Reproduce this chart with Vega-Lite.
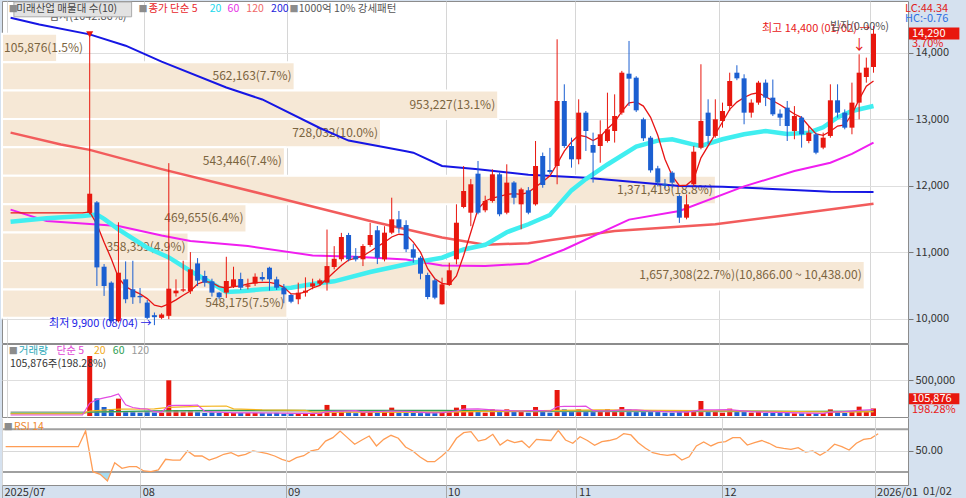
{
  "$schema": "https://vega.github.io/schema/vega-lite/v6.json",
  "background": "#d5e1ef",
  "padding": 0,
  "spacing": 1,
  "bounds": "flush",
  "config": {
    "view": {"stroke": "#8c8c8c", "fill": "white"},
    "axis": {"labelFont": "Noto Sans CJK KR", "labelFontSize": 11, "labelColor": "#333333"},
    "axisY": {"minExtent": 60, "maxExtent": 60},
    "axisX": {"maxExtent": 14},
    "text": {"font": "Noto Sans CJK KR", "fontSize": 11, "align": "left", "baseline": "middle"}
  },
  "datasets": {
    "candles": [
      {"t":11,"o":11590,"h":14290,"l":11570,"c":11880,"v":840000},
      {"t":12,"o":11750,"h":11770,"l":10490,"c":10770,"v":247000},
      {"t":13,"o":10780,"h":10820,"l":10340,"c":10490,"v":126000},
      {"t":14,"o":10540,"h":10560,"l":9930,"c":9960,"v":93000},
      {"t":15,"o":9960,"h":11450,"l":9940,"c":10690,"v":243000},
      {"t":16,"o":10590,"h":10860,"l":10230,"c":10290,"v":70000},
      {"t":17,"o":10440,"h":10870,"l":10220,"c":10320,"v":61000},
      {"t":18,"o":10340,"h":10460,"l":10230,"c":10320,"v":47000},
      {"t":19,"o":10240,"h":10280,"l":9990,"c":10010,"v":70000},
      {"t":20,"o":10050,"h":10090,"l":9900,"c":10020,"v":50000},
      {"t":21,"o":10010,"h":10080,"l":9990,"c":10060,"v":47000},
      {"t":22,"o":10040,"h":12340,"l":9990,"c":10450,"v":500000},
      {"t":23,"o":10380,"h":10590,"l":10330,"c":10420,"v":79000},
      {"t":24,"o":10420,"h":10870,"l":10400,"c":10440,"v":61000},
      {"t":25,"o":10410,"h":11000,"l":10370,"c":10740,"v":70000},
      {"t":26,"o":10830,"h":10910,"l":10490,"c":10570,"v":61000},
      {"t":27,"o":10640,"h":10720,"l":10480,"c":10540,"v":42000},
      {"t":28,"o":10560,"h":10600,"l":10330,"c":10390,"v":52000},
      {"t":29,"o":10390,"h":10400,"l":10290,"c":10320,"v":42000},
      {"t":30,"o":10390,"h":10930,"l":10310,"c":10565,"v":48000},
      {"t":31,"o":10480,"h":10780,"l":10460,"c":10590,"v":42000},
      {"t":32,"o":10595,"h":10690,"l":10430,"c":10464,"v":42000},
      {"t":33,"o":10480,"h":10600,"l":10440,"c":10500,"v":42000},
      {"t":34,"o":10525,"h":10680,"l":10490,"c":10630,"v":42000},
      {"t":35,"o":10625,"h":10700,"l":10560,"c":10590,"v":40000},
      {"t":36,"o":10765,"h":10780,"l":10420,"c":10590,"v":38000},
      {"t":37,"o":10590,"h":10630,"l":10430,"c":10464,"v":45000},
      {"t":38,"o":10464,"h":10520,"l":10230,"c":10364,"v":33000},
      {"t":39,"o":10354,"h":10370,"l":10230,"c":10253,"v":33000},
      {"t":40,"o":10290,"h":10540,"l":10215,"c":10389,"v":33000},
      {"t":41,"o":10390,"h":10620,"l":10330,"c":10420,"v":33000},
      {"t":42,"o":10480,"h":10600,"l":10440,"c":10530,"v":33000},
      {"t":43,"o":10525,"h":10600,"l":10500,"c":10575,"v":40000},
      {"t":44,"o":10540,"h":11340,"l":10420,"c":10790,"v":155000},
      {"t":45,"o":10776,"h":11090,"l":10740,"c":10900,"v":50000},
      {"t":46,"o":10892,"h":11290,"l":10860,"c":11228,"v":70000},
      {"t":47,"o":11258,"h":11290,"l":10860,"c":10892,"v":61000},
      {"t":48,"o":10940,"h":11060,"l":10860,"c":10890,"v":40000},
      {"t":49,"o":10892,"h":11120,"l":10790,"c":11092,"v":56000},
      {"t":50,"o":11107,"h":11440,"l":11080,"c":11258,"v":79000},
      {"t":51,"o":11329,"h":11394,"l":10820,"c":10916,"v":47000},
      {"t":52,"o":10892,"h":11390,"l":10860,"c":11293,"v":56000},
      {"t":53,"o":11293,"h":11820,"l":11270,"c":11494,"v":117000},
      {"t":54,"o":11494,"h":11620,"l":11290,"c":11368,"v":47000},
      {"t":55,"o":11408,"h":11480,"l":11000,"c":11043,"v":47000},
      {"t":56,"o":11043,"h":11120,"l":10840,"c":10916,"v":42000},
      {"t":57,"o":10916,"h":10940,"l":10590,"c":10675,"v":40000},
      {"t":58,"o":10655,"h":10690,"l":10290,"c":10324,"v":45000},
      {"t":59,"o":10575,"h":10600,"l":10290,"c":10314,"v":40000},
      {"t":60,"o":10214,"h":10615,"l":10210,"c":10515,"v":56000},
      {"t":61,"o":10505,"h":10840,"l":10490,"c":10726,"v":61000},
      {"t":62,"o":10892,"h":11720,"l":10816,"c":11443,"v":117000},
      {"t":63,"o":11680,"h":12297,"l":11660,"c":11921,"v":154000},
      {"t":64,"o":11594,"h":12100,"l":11390,"c":12022,"v":61000},
      {"t":65,"o":12182,"h":12373,"l":11570,"c":11594,"v":56000},
      {"t":66,"o":11630,"h":11850,"l":11600,"c":11770,"v":47000},
      {"t":67,"o":11770,"h":12247,"l":11745,"c":12172,"v":93000},
      {"t":68,"o":12172,"h":12200,"l":11540,"c":11570,"v":56000},
      {"t":69,"o":11594,"h":12323,"l":11570,"c":12047,"v":93000},
      {"t":70,"o":12047,"h":12070,"l":11720,"c":11820,"v":56000},
      {"t":71,"o":11720,"h":11970,"l":11344,"c":11946,"v":70000},
      {"t":72,"o":11931,"h":11980,"l":11570,"c":11594,"v":47000},
      {"t":73,"o":11720,"h":12674,"l":11700,"c":12297,"v":126000},
      {"t":74,"o":12448,"h":12500,"l":11970,"c":12011,"v":56000},
      {"t":75,"o":12237,"h":12570,"l":12180,"c":12207,"v":47000},
      {"t":76,"o":12297,"h":14206,"l":12022,"c":13277,"v":364000},
      {"t":77,"o":13277,"h":13528,"l":12570,"c":12599,"v":93000},
      {"t":78,"o":12599,"h":12724,"l":12272,"c":12398,"v":56000},
      {"t":79,"o":12398,"h":13302,"l":12323,"c":13101,"v":93000},
      {"t":80,"o":13101,"h":13126,"l":12524,"c":12825,"v":56000},
      {"t":81,"o":12614,"h":12800,"l":12047,"c":12498,"v":61000},
      {"t":82,"o":12599,"h":12986,"l":12347,"c":12775,"v":56000},
      {"t":83,"o":12674,"h":13402,"l":12650,"c":12850,"v":93000},
      {"t":84,"o":12825,"h":13377,"l":12650,"c":13051,"v":61000},
      {"t":85,"o":13101,"h":13730,"l":13070,"c":13703,"v":126000},
      {"t":86,"o":13688,"h":14181,"l":13201,"c":13613,"v":93000},
      {"t":87,"o":13628,"h":13650,"l":13110,"c":13136,"v":56000},
      {"t":88,"o":13001,"h":13026,"l":12674,"c":12715,"v":61000},
      {"t":89,"o":12724,"h":12750,"l":12197,"c":12232,"v":79000},
      {"t":90,"o":12262,"h":12300,"l":11990,"c":12047,"v":79000},
      {"t":91,"o":12030,"h":12100,"l":11960,"c":12000,"v":47000},
      {"t":92,"o":12197,"h":12220,"l":11970,"c":12047,"v":47000},
      {"t":93,"o":11845,"h":11870,"l":11440,"c":11519,"v":56000},
      {"t":94,"o":11519,"h":11870,"l":11494,"c":11720,"v":56000},
      {"t":95,"o":12022,"h":12600,"l":11990,"c":12513,"v":61000},
      {"t":96,"o":12573,"h":13830,"l":12549,"c":12976,"v":210000},
      {"t":97,"o":13101,"h":13302,"l":12624,"c":12750,"v":61000},
      {"t":98,"o":12750,"h":13302,"l":12724,"c":13001,"v":56000},
      {"t":99,"o":12976,"h":13252,"l":12875,"c":13126,"v":47000},
      {"t":100,"o":13201,"h":13703,"l":13126,"c":13578,"v":103000},
      {"t":101,"o":13703,"h":13815,"l":13590,"c":13618,"v":61000},
      {"t":102,"o":13618,"h":13679,"l":12926,"c":13101,"v":56000},
      {"t":103,"o":13101,"h":13302,"l":13026,"c":13252,"v":47000},
      {"t":104,"o":13252,"h":13580,"l":13220,"c":13553,"v":61000},
      {"t":105,"o":13553,"h":13600,"l":13200,"c":13327,"v":42000},
      {"t":106,"o":13327,"h":13600,"l":13050,"c":13076,"v":42000},
      {"t":107,"o":13086,"h":13150,"l":12900,"c":13026,"v":47000},
      {"t":108,"o":13176,"h":13277,"l":12674,"c":12900,"v":42000},
      {"t":109,"o":12825,"h":13200,"l":12700,"c":13051,"v":37000},
      {"t":110,"o":13026,"h":13050,"l":12574,"c":12775,"v":37000},
      {"t":111,"o":12674,"h":12900,"l":12640,"c":12800,"v":37000},
      {"t":112,"o":12775,"h":12800,"l":12474,"c":12498,"v":37000},
      {"t":113,"o":12574,"h":12800,"l":12550,"c":12724,"v":42000},
      {"t":114,"o":12750,"h":13528,"l":12724,"c":13287,"v":93000},
      {"t":115,"o":13287,"h":13528,"l":13026,"c":13101,"v":56000},
      {"t":116,"o":13101,"h":13150,"l":12850,"c":12875,"v":42000},
      {"t":117,"o":12875,"h":13553,"l":12775,"c":13252,"v":61000},
      {"t":118,"o":13252,"h":13980,"l":13000,"c":13703,"v":131000},
      {"t":119,"o":13638,"h":13930,"l":13553,"c":13779,"v":56000},
      {"t":120,"o":13789,"h":14407,"l":13703,"c":14290,"v":105876}
    ],
    "pma": [
      {"t":0,"m5":11590,"m20":11458,"m60":11640,"m120":12800,"m200":14530},
      {"t":4,"m200":14430},
      {"t":5,"m20":11510,"m60":11470},
      {"t":7,"m120":12620},
      {"t":10,"m5":11590,"m20":11545,"m60":11430},
      {"t":11,"m5":11605,"m120":12540,"m200":14280},
      {"t":12,"m5":11420,"m20":11565},
      {"t":13,"m5":11150,"m20":11500},
      {"t":14,"m5":10900},
      {"t":15,"m5":10615,"m20":11344,"m60":11394},
      {"t":16,"m5":10480,"m200":14110},
      {"t":17,"m5":10420},
      {"t":18,"m5":10370},
      {"t":19,"m5":10300,"m20":11067},
      {"t":20,"m5":10200},
      {"t":21,"m5":10175,"m60":11250,"m120":12250,"m200":13870},
      {"t":22,"m5":10220,"m20":10920},
      {"t":23,"m5":10280},
      {"t":24,"m5":10350},
      {"t":25,"m5":10414,"m20":10716,"m60":11168},
      {"t":26,"m5":10520},
      {"t":27,"m5":10560},
      {"t":28,"m5":10540,"m20":10530},
      {"t":29,"m5":10480},
      {"t":30,"m5":10460,"m20":10400,"m200":13480},
      {"t":31,"m5":10480},
      {"t":32,"m5":10490,"m20":10410},
      {"t":33,"m5":10520,"m60":11092},
      {"t":34,"m5":10540},
      {"t":35,"m5":10545,"m20":10440,"m200":13300},
      {"t":36,"m5":10545,"m120":11850},
      {"t":37,"m5":10520},
      {"t":38,"m5":10470},
      {"t":39,"m5":10370,"m20":10464},
      {"t":40,"m5":10370},
      {"t":41,"m5":10400},
      {"t":42,"m5":10460,"m20":10520,"m60":10950},
      {"t":43,"m5":10500,"m200":12870},
      {"t":44,"m5":10600},
      {"t":45,"m5":10700,"m20":10560},
      {"t":46,"m5":10800},
      {"t":47,"m5":10880,"m200":12680},
      {"t":48,"m5":10910,"m60":10930},
      {"t":49,"m5":10942},
      {"t":50,"m5":11010,"m20":10700,"m120":11470},
      {"t":51,"m5":11080},
      {"t":52,"m5":11150},
      {"t":53,"m5":11228},
      {"t":54,"m5":11269},
      {"t":55,"m5":11260,"m60":10890,"m200":12520},
      {"t":56,"m5":11150,"m20":10841,"m200":12498},
      {"t":57,"m5":11000},
      {"t":58,"m5":10750},
      {"t":59,"m5":10600},
      {"t":60,"m5":10530,"m20":10916,"m60":10800,"m120":11220,"m200":12297},
      {"t":61,"m5":10515},
      {"t":62,"m5":10640},
      {"t":63,"m5":10950,"m20":11040},
      {"t":64,"m5":11300},
      {"t":65,"m5":11650,"m200":12250},
      {"t":66,"m5":11770,"m20":11110,"m60":10790,"m120":11110},
      {"t":67,"m5":11815},
      {"t":68,"m5":11840},
      {"t":69,"m5":11870,"m20":11300},
      {"t":70,"m5":11880},
      {"t":71,"m5":11870},
      {"t":72,"m5":11900,"m20":11420,"m60":10830,"m120":11135,"m200":12165},
      {"t":73,"m5":11980},
      {"t":74,"m5":12060},
      {"t":75,"m5":12150,"m20":11560},
      {"t":76,"m5":12330},
      {"t":77,"m5":12520,"m60":11040},
      {"t":78,"m5":12660,"m20":11930},
      {"t":79,"m5":12760},
      {"t":80,"m5":12740,"m20":12100,"m200":12120},
      {"t":81,"m5":12680},
      {"t":82,"m5":12740},
      {"t":83,"m5":12860,"m20":12320},
      {"t":84,"m5":12960,"m120":11318},
      {"t":85,"m5":13120},
      {"t":86,"m5":13250,"m60":11490},
      {"t":87,"m5":13262,"m20":12590},
      {"t":88,"m5":13200},
      {"t":89,"m5":13030},
      {"t":90,"m5":12760,"m20":12680},
      {"t":91,"m5":12400},
      {"t":92,"m5":12150,"m20":12700},
      {"t":93,"m5":12000,"m60":11620,"m200":11996},
      {"t":94,"m5":12010},
      {"t":95,"m5":12100,"m20":12620},
      {"t":96,"m5":12420,"m20":12600},
      {"t":97,"m5":12600},
      {"t":98,"m5":12780,"m120":11419},
      {"t":99,"m5":12960,"m20":12700,"m200":11986},
      {"t":100,"m5":13150},
      {"t":101,"m5":13260},
      {"t":102,"m5":13330,"m20":12775,"m60":11990},
      {"t":103,"m5":13380},
      {"t":104,"m5":13400,"m200":11961},
      {"t":105,"m5":13340,"m20":12825},
      {"t":106,"m5":13280},
      {"t":107,"m5":13220,"m120":11544},
      {"t":108,"m5":13150,"m20":12780},
      {"t":109,"m5":13080,"m60":12222},
      {"t":110,"m5":13026},
      {"t":111,"m5":12900,"m20":12800},
      {"t":112,"m5":12780},
      {"t":113,"m5":12760,"m20":12880},
      {"t":114,"m5":12820,"m60":12347,"m200":11910},
      {"t":115,"m5":12900,"m20":13030},
      {"t":116,"m5":12915},
      {"t":117,"m5":13080,"m20":13126,"m60":12480},
      {"t":118,"m5":13300},
      {"t":119,"m5":13500},
      {"t":120,"m5":13578,"m20":13201,"m60":12650,"m120":11730,"m200":11906}
    ],
    "vma": [
      {"t":0,"a5":14000,"a20":30000,"a60":40000,"a120":58000},
      {"t":10,"a5":14000,"a20":30000,"a60":40000},
      {"t":11,"a5":180000,"a20":70000,"a60":55000},
      {"t":12,"a5":230000},{"t":13,"a5":255000},{"t":14,"a5":275000},
      {"t":15,"a5":310000,"a20":95000},
      {"t":16,"a5":156000},{"t":17,"a5":119000},{"t":18,"a5":103000},{"t":19,"a5":98000},
      {"t":20,"a5":60000,"a20":100000,"a60":72000},
      {"t":21,"a5":55000},
      {"t":22,"a5":145000,"a20":120000},
      {"t":23,"a5":150000},{"t":24,"a5":148000},{"t":25,"a5":150000},
      {"t":26,"a5":154000,"a20":135000},
      {"t":27,"a5":63000},{"t":28,"a5":57000},{"t":29,"a5":55000},
      {"t":30,"a5":49000,"a20":140000,"a60":78000},
      {"t":31,"a5":45000,"a20":100000},
      {"t":35,"a20":85000},
      {"t":36,"a5":42000},
      {"t":40,"a5":36000},
      {"t":41,"a20":80000},
      {"t":42,"a20":55000},
      {"t":43,"a5":36000},
      {"t":44,"a5":60000},
      {"t":45,"a60":78000},
      {"t":48,"a5":75000},
      {"t":49,"a5":55000},
      {"t":50,"a20":55000},
      {"t":53,"a5":70000},
      {"t":56,"a5":60000},
      {"t":58,"a5":45000},
      {"t":60,"a5":48000,"a20":52000,"a60":80000,"a120":60000},
      {"t":62,"a5":70000},
      {"t":63,"a5":95000,"a20":62000},
      {"t":65,"a5":100000},
      {"t":67,"a5":85000},
      {"t":69,"a5":75000},
      {"t":70,"a20":68000,"a60":68000},
      {"t":71,"a5":70000},
      {"t":73,"a5":80000},
      {"t":75,"a5":70000},
      {"t":76,"a5":130000,"a20":80000},
      {"t":77,"a5":135000},
      {"t":79,"a5":135000},
      {"t":80,"a5":138000},
      {"t":81,"a5":75000},
      {"t":82,"a20":85000},
      {"t":83,"a5":70000},
      {"t":85,"a5":85000,"a60":72000},
      {"t":87,"a5":85000},
      {"t":89,"a5":70000},
      {"t":90,"a20":80000},
      {"t":91,"a5":60000},
      {"t":94,"a5":55000},
      {"t":96,"a5":85000,"a20":75000},
      {"t":98,"a5":85000},
      {"t":100,"a5":90000,"a20":72000,"a60":70000},
      {"t":101,"a5":80000},
      {"t":103,"a5":60000},
      {"t":105,"a5":55000},
      {"t":108,"a5":48000},
      {"t":110,"a20":60000,"a60":65000},
      {"t":111,"a5":40000},
      {"t":113,"a5":38000},
      {"t":114,"a5":55000},
      {"t":115,"a20":55000},
      {"t":116,"a5":60000},
      {"t":118,"a5":80000},
      {"t":120,"a5":90000,"a20":62000,"a60":68000,"a120":60000}
    ],
    "rsi": [
      {"t":0,"r":53.7},{"t":10,"r":53.7},{"t":11,"r":68.4},{"t":12,"r":30.3},{"t":13,"r":27.8},
      {"t":14,"r":21.6},{"t":15,"r":38.7},{"t":16,"r":33.5},{"t":17,"r":35.0},{"t":18,"r":35.0},
      {"t":19,"r":31.0},{"t":20,"r":30.3},{"t":21,"r":31.9},{"t":22,"r":41.9},{"t":23,"r":41.2},
      {"t":24,"r":41.2},{"t":25,"r":49.7},{"t":26,"r":45.0},{"t":27,"r":45.0},{"t":28,"r":41.2},
      {"t":29,"r":43.4},{"t":30,"r":46.6},{"t":31,"r":48.1},{"t":32,"r":45.0},{"t":33,"r":46.6},
      {"t":34,"r":49.7},{"t":35,"r":48.7},{"t":36,"r":47.2},{"t":37,"r":45.0},{"t":38,"r":41.9},
      {"t":39,"r":39.7},{"t":40,"r":43.4},{"t":41,"r":45.3},{"t":42,"r":49.7},{"t":43,"r":51.2},
      {"t":44,"r":59.0},{"t":45,"r":62.2},{"t":46,"r":68.4},{"t":47,"r":62.2},{"t":48,"r":56.0},
      {"t":49,"r":60.0},{"t":50,"r":63.7},{"t":51,"r":54.4},{"t":52,"r":60.6},{"t":53,"r":64.4},
      {"t":54,"r":61.6},{"t":55,"r":53.4},{"t":56,"r":49.7},{"t":57,"r":44.0},{"t":58,"r":39.7},
      {"t":59,"r":39.7},{"t":60,"r":45.0},{"t":61,"r":51.2},{"t":62,"r":61.6},{"t":63,"r":66.8},
      {"t":64,"r":67.8},{"t":65,"r":59.0},{"t":66,"r":60.6},{"t":67,"r":65.3},{"t":68,"r":55.3},
      {"t":69,"r":60.0},{"t":70,"r":57.5},{"t":71,"r":59.0},{"t":72,"r":52.8},{"t":73,"r":60.6},
      {"t":74,"r":60.0},{"t":75,"r":59.5},{"t":76,"r":69.0},{"t":77,"r":60.0},{"t":78,"r":56.9},
      {"t":79,"r":63.1},{"t":80,"r":59.5},{"t":81,"r":55.0},{"t":82,"r":58.4},{"t":83,"r":59.5},
      {"t":84,"r":61.2},{"t":85,"r":65.9},{"t":86,"r":64.7},{"t":87,"r":57.5},{"t":88,"r":52.2},
      {"t":89,"r":48.1},{"t":90,"r":46.6},{"t":91,"r":45.6},{"t":92,"r":46.6},{"t":93,"r":41.2},
      {"t":94,"r":44.3},{"t":95,"r":54.4},{"t":96,"r":58.1},{"t":97,"r":54.4},{"t":98,"r":57.5},
      {"t":99,"r":58.4},{"t":100,"r":62.2},{"t":101,"r":62.2},{"t":102,"r":55.3},{"t":103,"r":57.5},
      {"t":104,"r":59.5},{"t":105,"r":56.9},{"t":106,"r":53.4},{"t":107,"r":52.2},{"t":108,"r":51.2},
      {"t":109,"r":52.8},{"t":110,"r":48.7},{"t":111,"r":49.7},{"t":112,"r":45.6},{"t":113,"r":49.7},
      {"t":114,"r":56.0},{"t":115,"r":53.7},{"t":116,"r":50.6},{"t":117,"r":56.9},{"t":118,"r":60.6},
      {"t":119,"r":61.6},{"t":120,"r":65.9}
    ],
    "profile": [
      {"lo":13862,"hi":14290,"v":105876,"label":"105,876(1.5%)"},
      {"lo":13434,"hi":13862,"v":562163,"label":"562,163(7.7%)"},
      {"lo":13006,"hi":13434,"v":953227,"label":"953,227(13.1%)"},
      {"lo":12578,"hi":13006,"v":728032,"label":"728,032(10.0%)"},
      {"lo":12150,"hi":12578,"v":543446,"label":"543,446(7.4%)"},
      {"lo":11722,"hi":12150,"v":1371419,"label":"1,371,419(18.8%)"},
      {"lo":11294,"hi":11722,"v":469655,"label":"469,655(6.4%)"},
      {"lo":10866,"hi":11294,"v":358359,"label":"358,359(4.9%)"},
      {"lo":10438,"hi":10866,"v":1657308,"label":"1,657,308(22.7%)(10,866.00 ~ 10,438.00)"},
      {"lo":10010,"hi":10438,"v":548175,"label":"548,175(7.5%)"}
    ]
  },
  "vconcat": [
    {
      "width": 906,
      "height": 342,
      "layer": [
        {
          "data": {"name": "profile"},
          "layer": [
            {
              "mark": {"type": "rect", "fill": "#f6e8d6", "stroke": "white", "strokeWidth": 2},
              "encoding": {
                "x": {"field": "v", "type": "quantitative", "scale": {"domain": [0, 1740500], "nice": false, "zero": false}, "axis": null, "title": null},
                "x2": {"datum": 0},
                "y": {"field": "hi", "type": "quantitative", "title": null},
                "y2": {"field": "lo"}
              }
            },
            {
              "transform": [{"filter": "datum.v >= 150000"}],
              "mark": {"type": "text", "align": "right", "dx": -3, "dy": 14, "color": "#7b6440", "fontSize": 12},
              "encoding": {
                "x": {"field": "v", "type": "quantitative"},
                "y": {"field": "hi", "type": "quantitative"},
                "text": {"field": "label"}
              }
            },
            {
              "transform": [{"filter": "datum.v < 150000"}],
              "mark": {"type": "text", "align": "left", "dx": 2, "dy": 14, "color": "#7b6440", "fontSize": 12},
              "encoding": {
                "x": {"datum": 0},
                "y": {"field": "hi", "type": "quantitative"},
                "text": {"field": "label"}
              }
            }
          ]
        },
        {
          "data": {"name": "candles"},
          "layer": [
            {
              "data": {"name": "pma"},
              "transform": [{"filter": "isValid(datum.m200)"}],
              "mark": {"type": "line", "color": "#1616e4", "strokeWidth": 2},
              "encoding": {
                "x": {"field": "t", "type": "quantitative", "title": null,
                  "scale": {"domain": [-0.5, 124.1], "nice": false, "zero": false},
                  "axis": {"values": [-0.5, 18.5, 38.5, 60.5, 78.5, 98.5, 119.5], "grid": true, "gridColor": "#d6d6d6", "labels": false, "ticks": false, "domain": false}},
                "y": {"field": "m200", "type": "quantitative", "title": null,
                  "scale": {"domain": [9631, 14783], "nice": false, "zero": false},
                  "axis": {"orient": "right", "values": [10000, 10500, 11000, 11500, 12000, 12500, 13000, 13500, 14000, 14500], "format": ",.0f", "labelExpr": "datum.value > 14200 ? '' : datum.label", "grid": true, "gridColor": "#dedede", "ticks": true, "tickSize": 5, "tickColor": "#777777", "domain": false, "labelPadding": 2}}
              }
            },
            {
              "data": {"name": "pma"},
              "transform": [{"filter": "isValid(datum.m120)"}],
              "mark": {"type": "line", "color": "#f25c5c", "strokeWidth": 2.5},
              "encoding": {"x": {"field": "t", "type": "quantitative"}, "y": {"field": "m120", "type": "quantitative"}}
            },
            {
              "data": {"name": "pma"},
              "transform": [{"filter": "isValid(datum.m60)"}],
              "mark": {"type": "line", "color": "#f01ef0", "strokeWidth": 2},
              "encoding": {"x": {"field": "t", "type": "quantitative"}, "y": {"field": "m60", "type": "quantitative"}}
            },
            {
              "data": {"name": "pma"},
              "transform": [{"filter": "isValid(datum.m20)"}],
              "mark": {"type": "line", "color": "#40eef0", "strokeWidth": 4.5},
              "encoding": {"x": {"field": "t", "type": "quantitative"}, "y": {"field": "m20", "type": "quantitative"}}
            },
            {
              "data": {"name": "pma"},
              "transform": [{"filter": "isValid(datum.m5)"}],
              "mark": {"type": "line", "color": "#e81414", "strokeWidth": 1.3},
              "encoding": {"x": {"field": "t", "type": "quantitative"}, "y": {"field": "m5", "type": "quantitative"}}
            },
            {
              "mark": {"type": "rule", "strokeWidth": 1},
              "encoding": {
                "x": {"field": "t", "type": "quantitative"},
                "y": {"field": "l", "type": "quantitative"},
                "y2": {"field": "h"},
                "color": {"condition": {"test": "datum.c >= datum.o", "value": "#e8170e"}, "value": "#1b5fd1"}
              }
            },
            {
              "mark": {"type": "bar", "size": 5},
              "encoding": {
                "x": {"field": "t", "type": "quantitative"},
                "y": {"field": "o", "type": "quantitative"},
                "y2": {"field": "c"},
                "color": {"condition": {"test": "datum.c >= datum.o", "value": "#e8170e"}, "value": "#1b5fd1"}
              }
            },
            {
              "data": {"values": [{}]},
              "layer": [
                {"mark": {"type": "text", "text": "빔자(1042.86%)", "align": "center", "color": "#555555"}, "encoding": {"x": {"datum": 10.74}, "y": {"datum": 14545}}},
                {"mark": {"type": "rect", "fill": "#e2e2e2", "stroke": "#ababab", "strokeWidth": 1},
                 "encoding": {"x": {"datum": 0.46}, "x2": {"datum": 16.83}, "y": {"datum": 14768}, "y2": {"datum": 14545}}},
                {"mark": {"type": "text", "text": "■", "fontSize": 9, "color": "#8c8c8c"}, "encoding": {"x": {"datum": -0.25}, "y": {"datum": 14655}}},
                {"mark": {"type": "text", "text": "미래산업 매물대 수(10)", "fontSize": 10.5, "color": "#444444"}, "encoding": {"x": {"datum": 0.8}, "y": {"datum": 14655}}},
                {"mark": {"type": "text", "text": "■", "fontSize": 9, "color": "#8c8c8c"}, "encoding": {"x": {"datum": 17.8}, "y": {"datum": 14655}}},
                {"mark": {"type": "text", "text": "종가 단순 5", "fontSize": 10.5, "color": "#e8262a"}, "encoding": {"x": {"datum": 19.17}, "y": {"datum": 14655}}},
                {"mark": {"type": "text", "text": "20", "fontSize": 10.5, "color": "#22d8ec"}, "encoding": {"x": {"datum": 27.69}, "y": {"datum": 14655}}},
                {"mark": {"type": "text", "text": "60", "fontSize": 10.5, "color": "#e630e6"}, "encoding": {"x": {"datum": 30.17}, "y": {"datum": 14655}}},
                {"mark": {"type": "text", "text": "120", "fontSize": 10.5, "color": "#f06868"}, "encoding": {"x": {"datum": 32.78}, "y": {"datum": 14655}}},
                {"mark": {"type": "text", "text": "200", "fontSize": 10.5, "color": "#2424dc"}, "encoding": {"x": {"datum": 36.22}, "y": {"datum": 14655}}},
                {"mark": {"type": "text", "text": "■", "fontSize": 9, "color": "#8c8c8c"}, "encoding": {"x": {"datum": 38.8}, "y": {"datum": 14655}}},
                {"mark": {"type": "text", "text": "1000억 10% 강세패턴", "fontSize": 10.5, "color": "#555555"}, "encoding": {"x": {"datum": 40.07}, "y": {"datum": 14655}}},
                {"mark": {"type": "point", "shape": "triangle-down", "filled": true, "size": 50, "color": "#e8170e", "opacity": 1}, "encoding": {"x": {"datum": 11}, "y": {"datum": 14280}}},
                {"mark": {"type": "text", "text": "최저 9,900 (08/04) →", "align": "right", "color": "#1a1ae6"}, "encoding": {"x": {"datum": 19.58}, "y": {"datum": 9922}}},
                {"mark": {"type": "text", "text": "최고 14,400 (01/02) →", "align": "right", "color": "#e82020"}, "encoding": {"x": {"datum": 119.56}, "y": {"datum": 14361}}},
                {"mark": {"type": "text", "text": "빔자(0.00%)", "align": "center", "color": "#555555"}, "encoding": {"x": {"datum": 118.05}, "y": {"datum": 14391}}},
                {"mark": {"type": "text", "text": "↓", "align": "center", "fontSize": 14, "color": "#e82020"}, "encoding": {"x": {"datum": 118}, "y": {"datum": 14125}}},
                {"mark": {"type": "text", "text": "LC:44.34", "color": "#e02020"}, "encoding": {"x": {"datum": 124.38}, "y": {"datum": 14665}}},
                {"mark": {"type": "text", "text": "HC:-0.76", "color": "#2f6fe0"}, "encoding": {"x": {"datum": 124.38}, "y": {"datum": 14510}}},
                {"mark": {"type": "rect", "fill": "#e8170e"}, "encoding": {"x": {"datum": 124.93}, "x2": {"datum": 131.94}, "y": {"datum": 14383}, "y2": {"datum": 14202}}},
                {"mark": {"type": "text", "text": "14,290", "color": "white"}, "encoding": {"x": {"datum": 125.34}, "y": {"datum": 14292}}},
                {"mark": {"type": "text", "text": "3.70%", "color": "#e82020"}, "encoding": {"x": {"datum": 125.34}, "y": {"datum": 14135}}}
              ]
            }
          ]
        }
      ],
      "resolve": {"scale": {"x": "independent"}, "axis": {"x": "independent"}}
    },
    {
      "width": 906,
      "height": 73,
      "data": {"name": "candles"},
      "layer": [
        {
          "mark": {"type": "bar", "size": 5},
          "encoding": {
            "x": {"field": "t", "type": "quantitative", "title": null,
              "scale": {"domain": [-0.5, 124.1], "nice": false, "zero": false},
              "axis": {"values": [-0.5, 18.5, 38.5, 60.5, 78.5, 98.5, 119.5], "grid": true, "gridColor": "#d6d6d6", "labels": false, "ticks": false, "domain": false}},
            "y": {"field": "v", "type": "quantitative", "title": null,
              "scale": {"domain": [-14006, 1008432], "nice": false, "zero": false},
              "axis": {"orient": "right", "values": [500000], "format": ",.0f", "grid": true, "gridColor": "#dedede", "ticks": true, "tickSize": 5, "tickColor": "#777777", "domain": false, "labelPadding": 2}},
            "color": {"condition": {"test": "datum.c >= datum.o", "value": "#e8170e"}, "value": "#1b5fd1"}
          }
        },
        {
          "data": {"name": "vma"},
          "transform": [{"filter": "isValid(datum.a120)"}],
          "mark": {"type": "line", "color": "#b4b4b4", "strokeWidth": 1.2},
          "encoding": {"x": {"field": "t", "type": "quantitative"}, "y": {"field": "a120", "type": "quantitative"}}
        },
        {
          "data": {"name": "vma"},
          "transform": [{"filter": "isValid(datum.a60)"}],
          "mark": {"type": "line", "color": "#2ea050", "strokeWidth": 1.2},
          "encoding": {"x": {"field": "t", "type": "quantitative"}, "y": {"field": "a60", "type": "quantitative"}}
        },
        {
          "data": {"name": "vma"},
          "transform": [{"filter": "isValid(datum.a20)"}],
          "mark": {"type": "line", "color": "#f3b41c", "strokeWidth": 1.2},
          "encoding": {"x": {"field": "t", "type": "quantitative"}, "y": {"field": "a20", "type": "quantitative"}}
        },
        {
          "data": {"name": "vma"},
          "transform": [{"filter": "isValid(datum.a5)"}],
          "mark": {"type": "line", "color": "#e24ce2", "strokeWidth": 1.2},
          "encoding": {"x": {"field": "t", "type": "quantitative"}, "y": {"field": "a5", "type": "quantitative"}}
        },
        {
          "data": {"values": [{}]},
          "layer": [
            {"mark": {"type": "text", "text": "■", "fontSize": 9, "color": "#8c8c8c"}, "encoding": {"x": {"datum": -0.25}, "y": {"datum": 905000}}},
            {"mark": {"type": "text", "text": "거래량", "fontSize": 10.5, "color": "#2ba8b8"}, "encoding": {"x": {"datum": 1.15}, "y": {"datum": 905000}}},
            {"mark": {"type": "text", "text": "단순 5", "fontSize": 10.5, "color": "#e044d4"}, "encoding": {"x": {"datum": 6.38}, "y": {"datum": 905000}}},
            {"mark": {"type": "text", "text": "20", "fontSize": 10.5, "color": "#f0aa18"}, "encoding": {"x": {"datum": 11.6}, "y": {"datum": 905000}}},
            {"mark": {"type": "text", "text": "60", "fontSize": 10.5, "color": "#2e9e52"}, "encoding": {"x": {"datum": 14.22}, "y": {"datum": 905000}}},
            {"mark": {"type": "text", "text": "120", "fontSize": 10.5, "color": "#9a9a9a"}, "encoding": {"x": {"datum": 16.83}, "y": {"datum": 905000}}},
            {"mark": {"type": "text", "text": "105,876주(198.28%)", "fontSize": 10.5, "color": "#333333"}, "encoding": {"x": {"datum": -0.1}, "y": {"datum": 733000}}},
            {"mark": {"type": "rect", "fill": "#e8170e"}, "encoding": {"x": {"datum": 124.93}, "x2": {"datum": 131.94}, "y": {"datum": 318000}, "y2": {"datum": 164000}}},
            {"mark": {"type": "text", "text": "105,876", "color": "white"}, "encoding": {"x": {"datum": 125.34}, "y": {"datum": 241000}}},
            {"mark": {"type": "text", "text": "198.28%", "color": "#e82020"}, "encoding": {"x": {"datum": 125.34}, "y": {"datum": 84000}}}
          ]
        }
      ]
    },
    {
      "width": 906,
      "height": 67,
      "data": {"name": "rsi"},
      "layer": [
        {
          "mark": {"type": "area", "color": "#a8dcf0"},
          "encoding": {
            "x": {"field": "t", "type": "quantitative", "title": null,
              "scale": {"domain": [-0.5, 124.1], "nice": false, "zero": false},
              "axis": {"values": [-0.5, 18.5, 38.5, 60.5, 78.5, 98.5, 119.5],
                "labelExpr": "datum.value < 0 ? '2025/07' : datum.value < 19 ? '08' : datum.value < 39 ? '09' : datum.value < 61 ? '10' : datum.value < 79 ? '11' : datum.value < 99 ? '12' : '2026/01'",
                "grid": true, "gridColor": "#d6d6d6", "ticks": true, "tickSize": 14, "tickColor": "#a8a8a8", "domain": false,
                "labelAlign": "left", "labelBaseline": "top", "labelPadding": -13, "labelOffset": 2,
                "labelFlush": false, "labelOverlap": false, "labelBound": false, "zindex": 1}},
            "y": {"field": "r", "type": "quantitative", "title": null,
              "scale": {"domain": [17.83, 80.59], "nice": false, "zero": false},
              "axis": {"orient": "right", "values": [50], "format": ".2f", "grid": true, "gridColor": "#d8d8d8", "ticks": true, "tickSize": 5, "tickColor": "#777777", "domain": false, "labelPadding": 2, "zindex": 1}},
            "y2": {"datum": 30}
          }
        },
        {
          "data": {"values": [{}]},
          "mark": {"type": "rect", "color": "white"},
          "encoding": {"x": {"datum": -0.5}, "x2": {"datum": 124.1}, "y": {"datum": 30}, "y2": {"datum": 80.59}}
        },
        {
          "data": {"values": [{}]},
          "mark": {"type": "rule", "color": "#a0a0a0", "strokeWidth": 2},
          "encoding": {"y": {"datum": 70}}
        },
        {
          "data": {"values": [{}]},
          "mark": {"type": "rule", "color": "#a0a0a0", "strokeWidth": 2},
          "encoding": {"y": {"datum": 30}}
        },
        {
          "mark": {"type": "line", "color": "#ff9d55", "strokeWidth": 1.3},
          "encoding": {"x": {"field": "t", "type": "quantitative"}, "y": {"field": "r", "type": "quantitative"}}
        },
        {
          "data": {"values": [{}]},
          "layer": [
            {"mark": {"type": "text", "text": "■", "fontSize": 9, "color": "#8c8c8c"}, "encoding": {"x": {"datum": -0.25}, "y": {"datum": 72.6}}},
            {"mark": {"type": "text", "text": "RSI 14", "fontSize": 10.5, "color": "#f08a30"}, "encoding": {"x": {"datum": 1.15}, "y": {"datum": 72.6}}},
            {"mark": {"type": "text", "text": "01/02", "color": "#333333"}, "encoding": {"x": {"datum": 126.17}, "y": {"datum": 11.27}}}
          ]
        }
      ]
    }
  ]
}
